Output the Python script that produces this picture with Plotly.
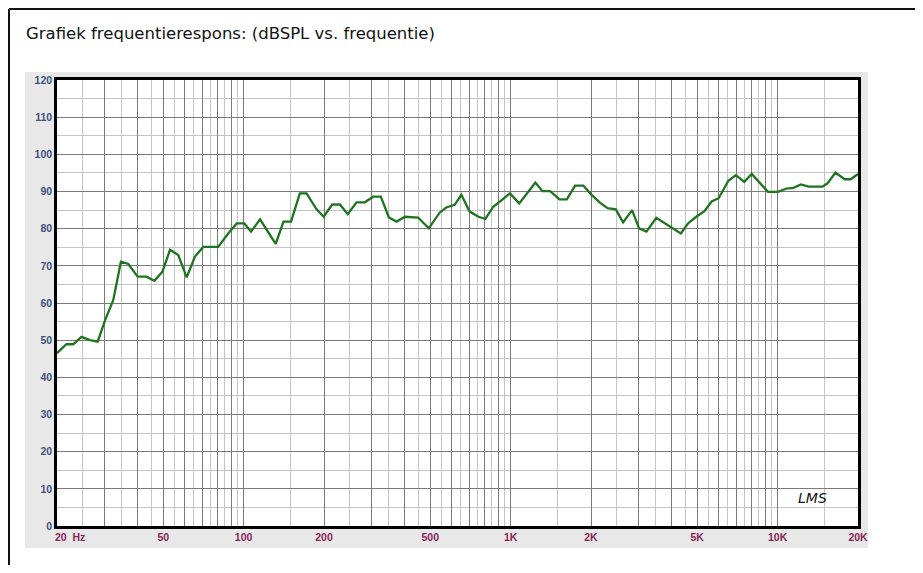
import plotly.graph_objects as go

# ---- data ----
freq_hz = [20, 21.7, 23, 24.7, 26.6, 28.4, 30.3, 32.5, 34.7, 37,
           40.1, 43.3, 46.3, 49.6, 53, 56.9, 61.2, 65.7, 70.6, 80.3,
           87.6, 94.2, 100.6, 106.6, 115.2, 131.9, 141, 150.5, 162.4, 172,
           187.6, 199.4, 214.8, 229.6, 245.4, 264.8, 284.6, 305.3, 326.4, 350,
           374, 402, 450, 494, 542, 574, 617, 654, 702, 758,
           804, 861, 926, 994, 1077, 1238, 1316, 1406, 1524, 1623,
           1744, 1872, 2010, 2160, 2306, 2477, 2638, 2850, 3028, 3226,
           3512, 3878, 4340, 4616, 4957, 5320, 5660, 6014, 6540, 6980,
           7500, 8000, 8630, 9200, 10040, 10800, 11460, 12220, 13080, 14720,
           15380, 16460, 17830, 18780, 20000]
spl_db = [46.5, 48.9, 48.9, 50.9, 50.0, 49.6, 55.4, 60.8, 71.1, 70.5,
          67.1, 67.1, 66.0, 68.4, 74.3, 72.9, 66.9, 72.5, 75.1, 75.1,
          78.7, 81.4, 81.4, 79.2, 82.5, 75.9, 81.9, 81.9, 89.5, 89.5,
          85.2, 83.2, 86.5, 86.5, 83.9, 87.1, 87.1, 88.6, 88.6, 83.0,
          81.9, 83.2, 83.0, 80.1, 84.3, 85.7, 86.4, 89.1, 84.6, 83.2,
          82.6, 85.9, 87.7, 89.5, 86.8, 92.4, 90.1, 90.1, 87.9, 87.9,
          91.6, 91.6, 89.1, 87.0, 85.5, 85.2, 81.7, 85.0, 80.1, 79.2,
          82.9, 81.0, 78.7, 81.4, 83.2, 84.7, 87.3, 88.2, 92.9, 94.4,
          92.6, 94.7, 92.2, 89.9, 89.9, 90.8, 91.0, 91.9, 91.3, 91.3,
          92.2, 95.1, 93.3, 93.3, 94.7]

# x ticks: major grid at integer multiples, labels only at some
x_major = [20, 30, 40, 50, 60, 70, 80, 90,
           100, 200, 300, 400, 500, 600, 700, 800, 900,
           1000, 2000, 3000, 4000, 5000, 6000, 7000, 8000, 9000,
           10000, 20000]
x_label_map = {20: "\u00a0" * 9 + "20\u00a0\u00a0Hz", 50: "50", 100: "100", 200: "200",
               500: "500", 1000: "1K", 2000: "2K", 5000: "5K",
               10000: "10K", 20000: "20K"}
x_minor = [25, 35, 45, 55, 65, 75, 85, 95,
           150, 250, 350, 450, 550, 650, 750, 850, 950,
           1500, 2500, 3500, 4500, 5500, 6500, 7500, 8500, 9500,
           15000]
y_major = [0, 10, 20, 30, 40, 50, 60, 70, 80, 90, 100, 110, 120]
y_minor = [5, 15, 25, 35, 45, 55, 65, 75, 85, 95, 105, 115]

title_text = "Grafiek frequentierespons: (dBSPL vs. frequentie)"

# figure is placed inside the page body (8px default margin)
W, H = 907, 557
L, R, T, B = 49, 850, 72, 518


def px_x(p):
    return (p - L) / (R - L)


def px_y(p):
    return (B - p) / (B - T)


fig = go.Figure()
fig.add_trace(go.Scatter(
    x=freq_hz, y=spl_db, mode="lines",
    line=dict(color="#1f7420", width=2.3),
    hoverinfo="x+y", showlegend=False,
))

fig.update_layout(
    width=W, height=H,
    margin=dict(l=L, r=W - R, t=T, b=H - B),
    paper_bgcolor="white", plot_bgcolor="white",
    title=dict(text=title_text, xref="container", yref="container",
               x=18 / W, xanchor="left", y=1 - 25 / H, yanchor="middle",
               font=dict(family="DejaVu Sans", size=16.5, color="#111111")),
    shapes=[
        # outer frame: left and top edges only
        dict(type="line", xref="paper", yref="paper", layer="below",
             x0=px_x(1), x1=px_x(1), y0=px_y(620), y1=px_y(1),
             line=dict(color="#111111", width=2)),
        dict(type="line", xref="paper", yref="paper", layer="below",
             x0=px_x(1), x1=px_x(960), y0=px_y(1), y1=px_y(1),
             line=dict(color="#111111", width=2)),
        # grey chart panel
        dict(type="rect", xref="paper", yref="paper", layer="below",
             x0=px_x(17), x1=px_x(860), y0=px_y(540), y1=px_y(64),
             line=dict(width=0), fillcolor="#e8e8e8"),
        # white plot area
        dict(type="rect", xref="paper", yref="paper", layer="below",
             x0=0, x1=1, y0=0, y1=1, line=dict(width=0), fillcolor="white"),
    ],
    annotations=[
        dict(text="<i>LMS</i>", xref="paper", yref="paper",
             x=px_x(821), y=px_y(500), showarrow=False,
             font=dict(family="DejaVu Sans", size=14, color="#111111")),
    ],
)

fig.update_xaxes(
    type="log", range=[1.30103, 4.30103],
    tickmode="array", tickvals=x_major,
    ticktext=[x_label_map.get(v, "") for v in x_major],
    ticks="", showgrid=True, gridcolor="#7a7a7a", gridwidth=1,
    minor=dict(tickmode="array", tickvals=x_minor, showgrid=True,
               gridcolor="#c4c4c4", gridwidth=1, ticks=""),
    showline=True, mirror=True, linecolor="#000000", linewidth=2.5,
    tickfont=dict(family="Liberation Sans", size=10.5, color="#8a2457", weight="bold"),
    zeroline=False, tickangle=0,
)
fig.update_yaxes(
    range=[0, 120], tickmode="array", tickvals=y_major,
    ticktext=[str(v) for v in y_major],
    ticks="", showgrid=True, gridcolor="#7a7a7a", gridwidth=1,
    minor=dict(tickmode="array", tickvals=y_minor, showgrid=True,
               gridcolor="#c4c4c4", gridwidth=1, ticks=""),
    showline=True, mirror=True, linecolor="#000000", linewidth=2.5,
    tickfont=dict(family="Liberation Sans", size=10.5, color="#3f5080", weight="bold"),
    zeroline=False,
)
fig.update_layout(font=dict(family="Liberation Sans"))

fig.write_html("out.html")
